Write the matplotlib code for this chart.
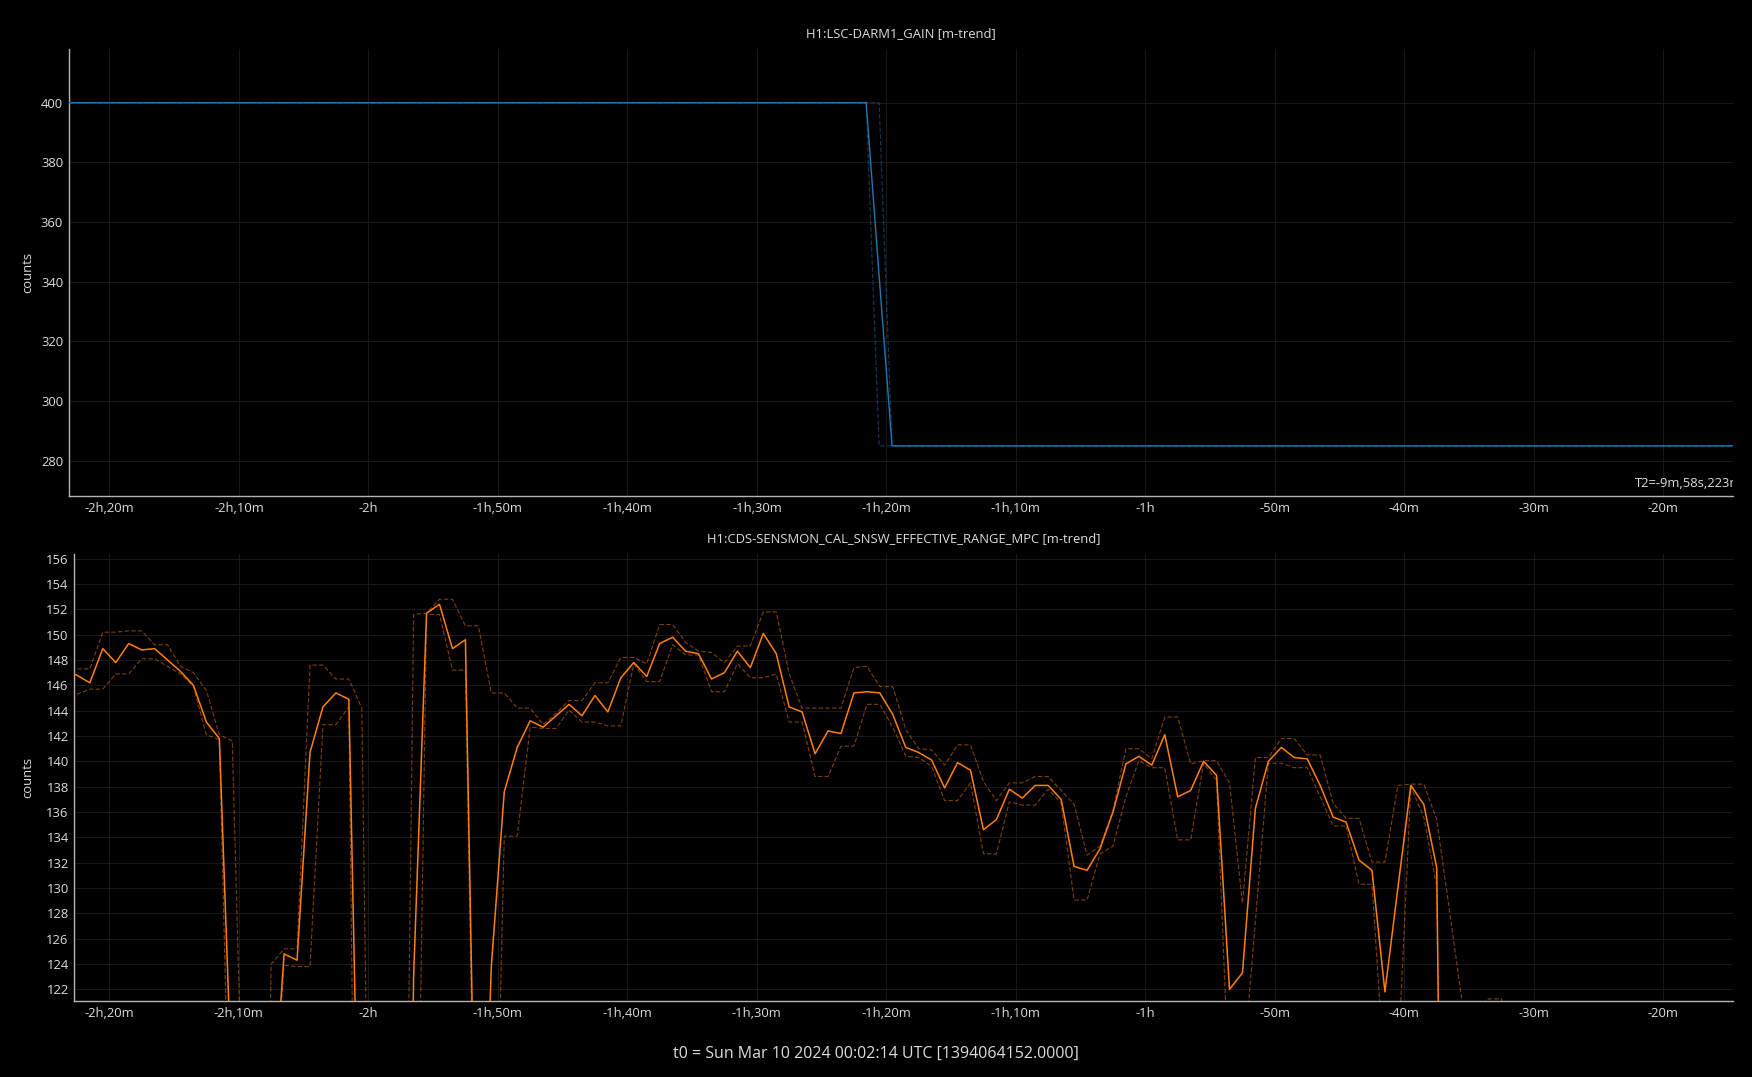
import numpy as np
import matplotlib
matplotlib.use("Agg")
import matplotlib.pyplot as plt
from matplotlib.ticker import FixedLocator, FuncFormatter

plt.rcParams['font.family'] = ['Open Sans', 'DejaVu Sans']

# ---------------- data ----------------
top_title = "H1:LSC-DARM1_GAIN [m-trend]"
bot_title = "H1:CDS-SENSMON_CAL_SNSW_EFFECTIVE_RANGE_MPC [m-trend]"
footer = "t0 = Sun Mar 10 2024 00:02:14 UTC [1394064152.0000]"
t2_label = "T2=-9m,58s,223ms"

# top panel (minutes relative to t0)
gain_t = [-143.5, -81.56, -80.56, -79.56, -14.5]
gain_mean = [400, 400, 342, 285, 285]
gain_min = [400, 400, 285, 285, 285]
gain_max = [400, 400, 400, 285, 285]

# bottom panel: minute trend starting at -143.5 min, one sample per minute
range_t0 = -143.5
range_mean = [
    147.3, 146.8, 146.2, 148.9, 147.8, 149.3, 148.8, 148.9, 148.0, 147.1,
    146.0, 143.1, 141.8, 113.0, 100.0, 50.0, 110.0, 124.8, 124.3, 140.7,
    144.3, 145.4, 144.9, 95.0, 60.0, 50.0, 50.0, 123.0, 151.7, 152.4,
    148.9, 149.6, 94.0, 123.8, 137.6, 141.1, 143.2, 142.7, 143.6, 144.5,
    143.6, 145.2, 143.9, 146.6, 147.8, 146.7, 149.3, 149.8, 148.7, 148.5,
    146.5, 147.0, 148.7, 147.4, 150.1, 148.5, 144.3, 143.9, 140.6, 142.4,
    142.2, 145.4, 145.5, 145.4, 143.7, 141.1, 140.7, 140.1, 137.9, 139.9,
    139.3, 134.6, 135.4, 137.8, 137.1, 138.1, 138.1, 137.0, 131.7, 131.4,
    133.1, 136.0, 139.8, 140.4, 139.7, 142.1, 137.2, 137.7, 140.0, 138.9,
    122.0, 123.3, 136.3, 140.0, 141.1, 140.3, 140.2, 138.1, 135.6, 135.2,
    132.2, 131.4, 121.8, 130.0, 138.1, 136.6, 131.6, 45.0, 40.0, 40.0,
    40.0, 40.0, 40.0, 40.0,
]
range_min = [
    145.0, 145.3, 145.7, 145.7, 146.9, 146.9, 148.1, 148.1, 147.5, 146.9,
    145.9, 142.1, 141.7, 100.4, 95.0, 40.0, 109.5, 123.9, 123.8, 123.8,
    142.9, 142.9, 144.3, 55.0, 40.0, 40.0, 40.0, 85.0, 151.6, 151.6,
    147.2, 147.2, 90.0, 90.8, 134.1, 134.1, 142.7, 142.6, 142.6, 144.05,
    143.1, 143.1, 142.8, 142.8, 147.7, 146.3, 146.3, 149.2, 148.4, 148.4,
    145.5, 145.5, 147.7, 146.6, 146.6, 146.9, 143.1, 143.1, 138.8, 138.8,
    141.2, 141.2, 144.5, 144.5, 142.7, 140.4, 140.3, 139.6, 136.9, 136.9,
    138.3, 132.7, 132.7, 136.8, 136.55, 136.55, 137.8, 136.7, 129.05, 129.05,
    132.7, 133.3, 137.2, 140.05, 139.5, 139.5, 133.8, 133.8, 139.85, 138.5,
    113.3, 115.0, 127.4, 139.85, 139.85, 139.5, 139.5, 137.2, 134.9, 134.9,
    130.3, 130.3, 114.7, 116.0, 138.0, 135.6, 130.1, 40.0, 35.0, 35.0,
    35.0, 35.0, 35.0, 35.0,
]
range_max = [
    147.3, 147.3, 147.3, 150.2, 150.2, 150.3, 150.3, 149.2, 149.2, 147.5,
    147.0, 145.6, 142.1, 141.6, 103.6, 60.0, 124.0, 125.2, 125.2, 147.6,
    147.6, 146.5, 146.5, 144.2, 70.0, 60.0, 67.0, 151.6, 151.7, 152.8,
    152.8, 150.7, 150.7, 145.4, 145.4, 144.2, 144.2, 142.9, 143.8, 144.8,
    144.8, 146.2, 146.2, 148.2, 148.2, 147.7, 150.8, 150.8, 149.4, 148.7,
    148.6, 147.8, 149.1, 149.1, 151.8, 151.8, 146.9, 144.2, 144.2, 144.2,
    144.2, 147.4, 147.5, 145.9, 145.9, 142.5, 141.0, 140.9, 139.7, 141.3,
    141.3, 138.4, 136.9, 138.3, 138.3, 138.8, 138.8, 137.7, 136.6, 132.6,
    133.3, 136.1, 141.0, 141.0, 140.2, 143.5, 143.5, 139.8, 140.05, 140.05,
    138.3, 128.8, 140.3, 140.3, 141.8, 141.8, 140.5, 140.5, 136.7, 135.5,
    135.5, 132.05, 132.05, 138.1, 138.2, 138.2, 135.4, 128.1, 120.7, 120.5,
    121.25, 121.25, 110.0, 100.0,
]
range_t = range_t0 + np.arange(len(range_mean))

top_yticks = [280, 300, 320, 340, 360, 380, 400]
bot_yticks = list(range(122, 157, 2))
x_ticks = [-140, -130, -120, -110, -100, -90, -80, -70, -60, -50, -40, -30, -20]

# ---------------- style ----------------
W, H = 1752, 1077
BG = '#000000'
TXT = '#dcdcdc'
GRID = '#181818'
GRID_MAJ = '#333333'
SPINE = '#b4b4b4'
BLUE = '#1f77b4'
ORANGE = '#ff7f0e'


def fmt_min(v, pos=None):
    v = int(round(v))
    if v == 0:
        return '0'
    s = '-' if v < 0 else ''
    a = abs(v)
    h, m = divmod(a, 60)
    if h and m:
        return f"{s}{h}h,{m}m"
    if h:
        return f"{s}{h}h"
    return f"{s}{m}m"


fig = plt.figure(figsize=(W / 100, H / 100), dpi=100, facecolor=BG)

ax1 = fig.add_axes([68.7 / W, 1 - 496 / H, (1733.3 - 68.7) / W, (496 - 49.3) / H])
ax2 = fig.add_axes([74.3 / W, 1 - 1001 / H, (1733.3 - 74.3) / W, (1001 - 554) / H])


def style(ax, yticks, ylim, xlim, major_y):
    ax.set_facecolor(BG)
    ax.set_xlim(*xlim)
    ax.set_ylim(*ylim)
    ax.xaxis.set_major_locator(FixedLocator(x_ticks))
    ax.xaxis.set_major_formatter(FuncFormatter(fmt_min))
    ax.yaxis.set_major_locator(FixedLocator(yticks))
    ax.tick_params(axis='both', length=0, colors=TXT, labelsize=9.4)
    ax.tick_params(axis='x', pad=4.5)
    ax.tick_params(axis='y', pad=4)
    for sp in ('top', 'right'):
        ax.spines[sp].set_visible(False)
    for sp in ('left', 'bottom'):
        ax.spines[sp].set_color(SPINE)
        ax.spines[sp].set_linewidth(1.0)
    ax.grid(True, color=GRID, linewidth=0.75, zorder=0)
    ax.set_axisbelow(True)
    for yv in major_y:
        ax.axhline(yv, color=GRID_MAJ, linewidth=0.75, zorder=0.5)


style(ax1, top_yticks, (268.2, 417.9), (-143.14, -14.6), [400])
style(ax2, bot_yticks, (121.08, 156.37), (-142.70, -14.6), [140])
for xv in (-120, -90, -60, -30):
    ax2.axvline(xv, color='#262626', linewidth=0.75, zorder=0.5)

dash = (0, (4, 2))
ax1.plot(gain_t, gain_min, color=BLUE, alpha=0.5, lw=0.8, ls=dash, zorder=2)
ax1.plot(gain_t, gain_max, color=BLUE, alpha=0.5, lw=0.8, ls=dash, zorder=2)
ax1.plot(gain_t, gain_mean, color=BLUE, lw=1.0, zorder=3)

ax2.plot(range_t, range_min, color=ORANGE, alpha=0.5, lw=0.8, ls=dash, zorder=2)
ax2.plot(range_t, range_max, color=ORANGE, alpha=0.5, lw=0.8, ls=dash, zorder=2)
ax2.plot(range_t, range_mean, color=ORANGE, lw=1.1, zorder=3)

ax1.text(0.9412, 0.0284, t2_label, transform=ax1.transAxes, color=TXT,
         fontsize=9.4, ha='left', va='center', clip_on=True)

# titles, labels, footer
fig.text((68.7 + 1733.3) / 2 / W, 1 - 34 / H, top_title, color=TXT,
         fontsize=9.4, ha='center', va='center')
fig.text((74.3 + 1733.3) / 2 / W, 1 - 538.5 / H, bot_title, color=TXT,
         fontsize=9.4, ha='center', va='center')
fig.text(28 / W, 1 - 272.5 / H, 'counts', color=TXT, fontsize=9.4,
         rotation=90, ha='center', va='center')
fig.text(28 / W, 1 - 777.5 / H, 'counts', color=TXT, fontsize=9.4,
         rotation=90, ha='center', va='center')
fig.text(0.5, 1 - 1053.5 / H, footer, color=TXT, fontsize=11.5,
         ha='center', va='center')

fig.savefig('out.png', dpi=100, facecolor=BG)
